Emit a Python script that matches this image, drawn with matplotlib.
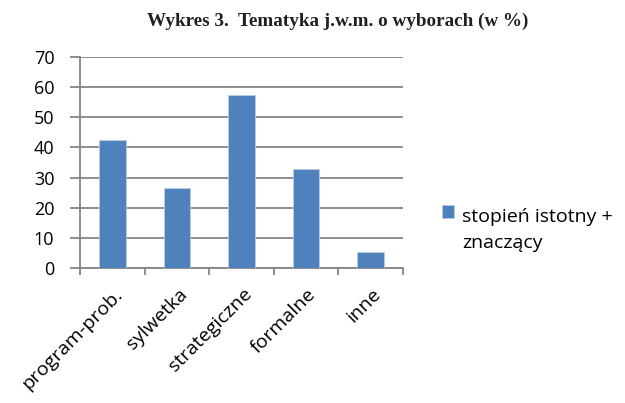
import numpy as np
import matplotlib.pyplot as plt
import matplotlib.transforms as mtransforms
from matplotlib.patches import Rectangle
from matplotlib.legend_handler import HandlerPatch

categories = ['program-prob.', 'sylwetka', 'strategiczne', 'formalne', 'inne']
values = [42.5, 26.5, 57.5, 33.0, 5.2]
series_name = 'stopień istotny +\nznaczący'
title = 'Wykres 3.  Tematyka j.w.m. o wyborach (w %)'

plt.rcParams['font.family'] = ['Open Sans', 'DejaVu Sans']

fig = plt.figure(figsize=(6.25, 4.03), dpi=100)
ax = fig.add_axes([80/625, 1 - 268/403, (403-80)/625, (268-57)/403])

x = np.arange(len(categories))
bars = ax.bar(x, values, width=0.41, color='#4F81BD', edgecolor='#B9CDE5',
              linewidth=0.6, label=series_name, zorder=3)

ax.set_xlim(-0.5, len(categories) - 0.5)
ax.set_ylim(0, 70)
ax.set_yticks(range(0, 71, 10))
ax.yaxis.grid(True, color='#868686', linewidth=1.3, zorder=0)

for side in ['top', 'right']:
    ax.spines[side].set_visible(False)
for side in ['left', 'bottom']:
    ax.spines[side].set_color('#868686')
    ax.spines[side].set_linewidth(1.3)

ax.tick_params(axis='y', length=7, width=1.3, color='#868686',
               labelsize=13, pad=11.5)
ax.set_xticks(np.arange(-0.5, len(categories), 1.0))
ax.set_xticklabels([])
ax.tick_params(axis='x', length=5, width=1.3, color='#868686')

# category labels at bar centres, rotated
offset = mtransforms.ScaledTranslation(1/100, -17/100, fig.dpi_scale_trans)
for i, c in enumerate(categories):
    ax.text(i, 0, c, rotation=45, rotation_mode='anchor', ha='right', va='top',
            fontsize=14, transform=ax.get_xaxis_transform() + offset)

fig.text(338/625, 1 - 21/403, title, ha='center', va='center',
         fontsize=13.8, fontweight='bold', family='Liberation Serif',
         color='#231F20')


# legend key sits beside the first line of the two-line label
def first_line_patch(legend, orig_handle, xdescent, ydescent, width, height, fontsize):
    return Rectangle((-xdescent, -ydescent + 13), width, height)


leg = fig.legend(handles=[bars[0]], labels=[series_name], loc='upper left',
                 bbox_to_anchor=(424/625, 1 - 190/403), frameon=False,
                 fontsize=14, handlelength=0.65, handleheight=0.65,
                 handletextpad=0.4,
                 handler_map={Rectangle: HandlerPatch(patch_func=first_line_patch)})
for t in leg.get_texts():
    t.set_linespacing(1.6)

fig.savefig('out.png', dpi=100)
